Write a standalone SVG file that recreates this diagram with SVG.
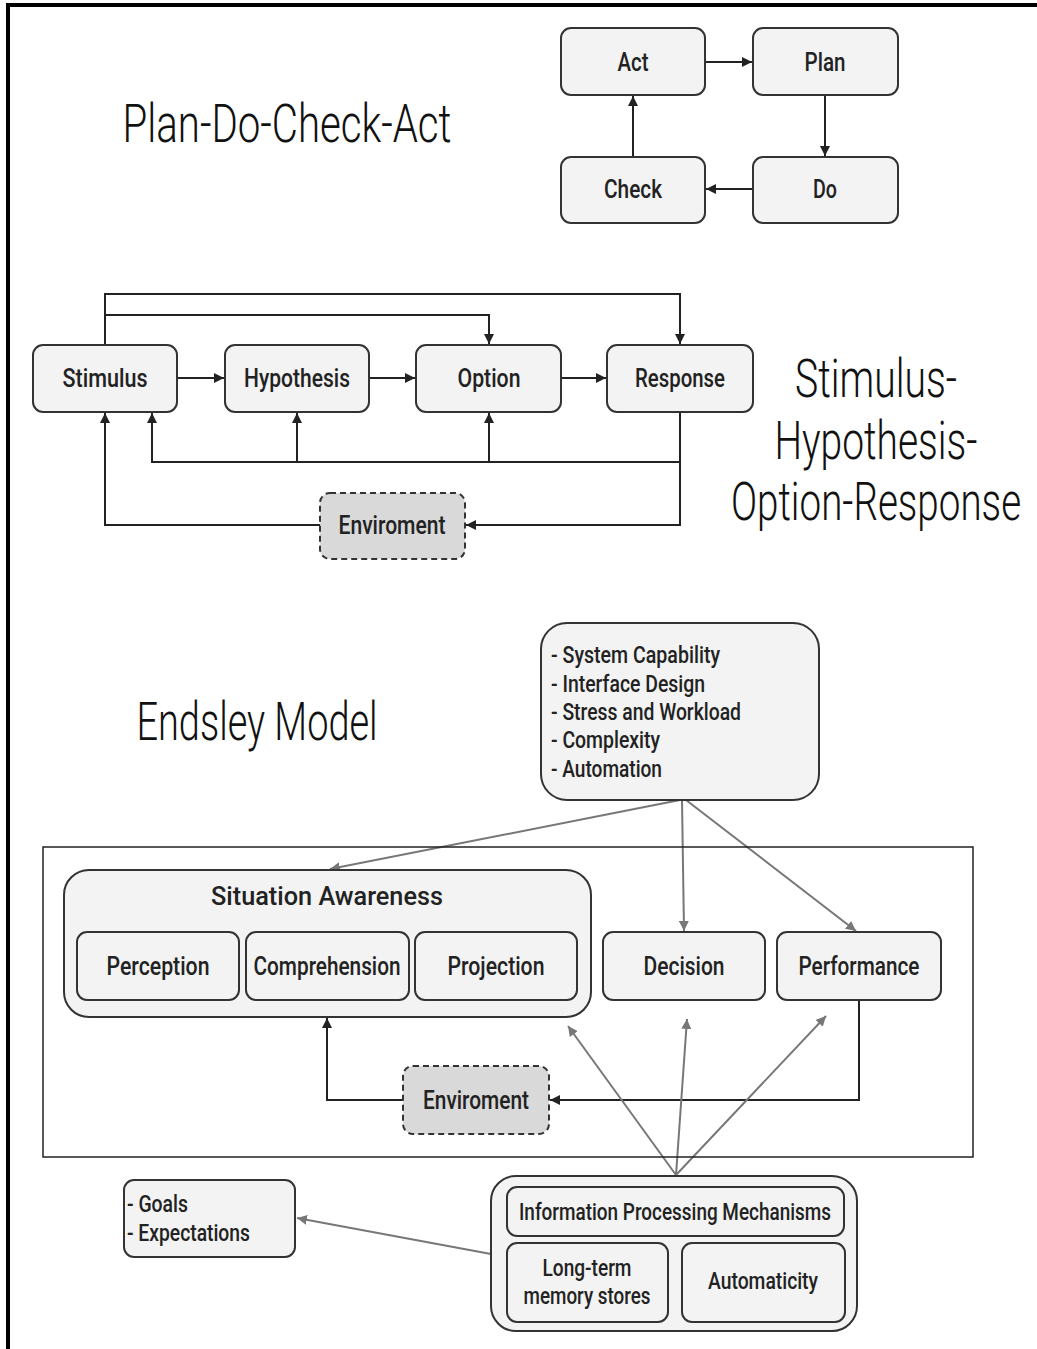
<svg xmlns="http://www.w3.org/2000/svg" width="1037" height="1349" viewBox="0 0 1037 1349">
<defs>
<style>
.box{fill:#f3f3f3;stroke:#333;stroke-width:2}
.env{fill:#d9d9d9;stroke:#333;stroke-width:2;stroke-dasharray:6 4}
.lbl{font-family:"Roboto","Liberation Sans",sans-serif;font-weight:500;font-size:25px;fill:#222;text-anchor:middle}
.lst{font-family:"Roboto","Liberation Sans",sans-serif;font-weight:500;font-size:23px;fill:#222}
.title{font-family:"Roboto","Liberation Sans",sans-serif;font-weight:300;font-size:54px;fill:#111;text-anchor:middle}
.k{fill:none;stroke:#222;stroke-width:2}
.g{fill:none;stroke:#777;stroke-width:2}
</style>
<marker id="ak" viewBox="0 0 10 10" refX="10" refY="5" markerWidth="10" markerHeight="10" markerUnits="userSpaceOnUse" orient="auto"><path d="M0,0 L10,5 L0,10 z" fill="#222"/></marker>
<marker id="ag" viewBox="0 0 10 10" refX="10" refY="5" markerWidth="10" markerHeight="10" markerUnits="userSpaceOnUse" orient="auto"><path d="M0,0 L10,5 L0,10 z" fill="#777"/></marker>
</defs>
<rect width="1037" height="1349" fill="#fff"/>
<!-- page frame -->
<line x1="6" y1="5" x2="1037" y2="5" stroke="#000" stroke-width="4"/>
<line x1="8" y1="3" x2="8" y2="1349" stroke="#000" stroke-width="4"/>

<!-- titles -->
<g transform="translate(287 0) scale(0.72 1)"><text class="title" x="0" y="142" textLength="457" lengthAdjust="spacingAndGlyphs">Plan-Do-Check-Act</text></g>
<g transform="translate(876 0) scale(0.72 1)">
<text class="title" x="0" y="397" textLength="225" lengthAdjust="spacingAndGlyphs">Stimulus-</text>
<text class="title" x="0" y="459" textLength="282" lengthAdjust="spacingAndGlyphs">Hypothesis-</text>
<text class="title" x="0" y="520" textLength="403" lengthAdjust="spacingAndGlyphs">Option-Response</text>
</g>
<g transform="translate(257 0) scale(0.72 1)"><text class="title" x="0" y="740" textLength="335" lengthAdjust="spacingAndGlyphs">Endsley Model</text></g>

<!-- connectors -->
<g id="connectors">
<line class="k" x1="705" y1="62" x2="752" y2="62" marker-end="url(#ak)"/>
<line class="k" x1="825" y1="95" x2="825" y2="156" marker-end="url(#ak)"/>
<line class="k" x1="753" y1="189" x2="706" y2="189" marker-end="url(#ak)"/>
<line class="k" x1="633" y1="157" x2="633" y2="96" marker-end="url(#ak)"/>

<line class="k" x1="177" y1="378" x2="224" y2="378" marker-end="url(#ak)"/>
<line class="k" x1="369" y1="378" x2="415" y2="378" marker-end="url(#ak)"/>
<line class="k" x1="561" y1="378" x2="606" y2="378" marker-end="url(#ak)"/>
<polyline class="k" points="105,345 105,294 680,294 680,344" marker-end="url(#ak)"/>
<polyline class="k" points="105,315 489,315 489,344" marker-end="url(#ak)"/>
<polyline class="k" points="680,412 680,462 152,462 152,413" marker-end="url(#ak)"/>
<line class="k" x1="297" y1="462" x2="297" y2="413" marker-end="url(#ak)"/>
<line class="k" x1="489" y1="462" x2="489" y2="413" marker-end="url(#ak)"/>
<polyline class="k" points="680,462 680,525 466,525" marker-end="url(#ak)"/>
<polyline class="k" points="320,525 105,525 105,413" marker-end="url(#ak)"/>

<line class="g" x1="680" y1="800" x2="330" y2="869" marker-end="url(#ag)"/>
<line class="g" x1="682" y1="800" x2="684" y2="931" marker-end="url(#ag)"/>
<line class="g" x1="686" y1="800" x2="856" y2="931" marker-end="url(#ag)"/>
<polyline class="k" points="859,1000 859,1100 550,1100" marker-end="url(#ak)"/>
<polyline class="k" points="403,1100 327,1100 327,1018" marker-end="url(#ak)"/>
<line class="g" x1="676" y1="1175" x2="568" y2="1026" marker-end="url(#ag)"/>
<line class="g" x1="676" y1="1175" x2="687" y2="1019" marker-end="url(#ag)"/>
<line class="g" x1="676" y1="1175" x2="826" y2="1016" marker-end="url(#ag)"/>
<line class="g" x1="491" y1="1254" x2="297" y2="1218" marker-end="url(#ag)"/>
</g>

<!-- PDCA -->
<g id="act"><rect class="box" x="561" y="28" width="144" height="67" rx="10"/><text class="lbl" x="633" y="71" textLength="31" lengthAdjust="spacingAndGlyphs">Act</text></g>
<g id="plan"><rect class="box" x="753" y="28" width="145" height="67" rx="10"/><text class="lbl" x="825" y="71" textLength="41" lengthAdjust="spacingAndGlyphs">Plan</text></g>
<g id="check"><rect class="box" x="561" y="157" width="144" height="66" rx="10"/><text class="lbl" x="633" y="198" textLength="58" lengthAdjust="spacingAndGlyphs">Check</text></g>
<g id="do"><rect class="box" x="753" y="157" width="145" height="66" rx="10"/><text class="lbl" x="825" y="198" textLength="24" lengthAdjust="spacingAndGlyphs">Do</text></g>

<!-- SHOR -->
<g id="stimulus"><rect class="box" x="33" y="345" width="144" height="67" rx="10"/><text class="lbl" x="105" y="387" textLength="85" lengthAdjust="spacingAndGlyphs">Stimulus</text></g>
<g id="hypothesis"><rect class="box" x="225" y="345" width="144" height="67" rx="10"/><text class="lbl" x="297" y="387" textLength="106" lengthAdjust="spacingAndGlyphs">Hypothesis</text></g>
<g id="option"><rect class="box" x="416" y="345" width="145" height="67" rx="10"/><text class="lbl" x="489" y="387" textLength="63" lengthAdjust="spacingAndGlyphs">Option</text></g>
<g id="response"><rect class="box" x="607" y="345" width="146" height="67" rx="10"/><text class="lbl" x="680" y="387" textLength="90" lengthAdjust="spacingAndGlyphs">Response</text></g>
<g id="enviroment1"><rect class="env" x="320" y="493" width="145" height="66" rx="10"/><text class="lbl" x="392" y="534" textLength="107" lengthAdjust="spacingAndGlyphs">Enviroment</text></g>

<!-- Endsley -->
<g id="factors"><rect class="box" x="541" y="623" width="278" height="177" rx="26"/>
<text class="lst" x="551" y="663" textLength="169" lengthAdjust="spacingAndGlyphs">- System Capability</text>
<text class="lst" x="551" y="692" textLength="154" lengthAdjust="spacingAndGlyphs">- Interface Design</text>
<text class="lst" x="551" y="720" textLength="190" lengthAdjust="spacingAndGlyphs">- Stress and Workload</text>
<text class="lst" x="551" y="748" textLength="109" lengthAdjust="spacingAndGlyphs">- Complexity</text>
<text class="lst" x="551" y="777" textLength="111" lengthAdjust="spacingAndGlyphs">- Automation</text></g>

<g id="system"><rect x="43" y="847" width="930" height="310" fill="none" stroke="#222" stroke-width="1.5"/></g>
<g id="situation-awareness"><rect class="box" x="64" y="870" width="527" height="147" rx="25"/><text class="lbl" x="327" y="905" font-size="28" textLength="232" lengthAdjust="spacingAndGlyphs">Situation Awareness</text></g>
<g id="perception"><rect class="box" x="77" y="932" width="162" height="68" rx="10"/><text class="lbl" x="158" y="975" textLength="103" lengthAdjust="spacingAndGlyphs">Perception</text></g>
<g id="comprehension"><rect class="box" x="246" y="932" width="163" height="68" rx="10"/><text class="lbl" x="327" y="975" textLength="147" lengthAdjust="spacingAndGlyphs">Comprehension</text></g>
<g id="projection"><rect class="box" x="415" y="932" width="162" height="68" rx="10"/><text class="lbl" x="496" y="975" textLength="97" lengthAdjust="spacingAndGlyphs">Projection</text></g>
<g id="decision"><rect class="box" x="603" y="932" width="162" height="68" rx="10"/><text class="lbl" x="684" y="975" textLength="81" lengthAdjust="spacingAndGlyphs">Decision</text></g>
<g id="performance"><rect class="box" x="777" y="932" width="164" height="68" rx="10"/><text class="lbl" x="859" y="975" textLength="121" lengthAdjust="spacingAndGlyphs">Performance</text></g>
<g id="enviroment2"><rect class="env" x="403" y="1066" width="146" height="68" rx="10"/><text class="lbl" x="476" y="1109" textLength="106" lengthAdjust="spacingAndGlyphs">Enviroment</text></g>

<g id="ipm-group"><rect class="box" x="491" y="1176" width="366" height="155" rx="25"/></g>
<g id="ipm"><rect class="box" x="507" y="1187" width="337" height="49" rx="10"/><text class="lst" x="675" y="1220" text-anchor="middle" textLength="312" lengthAdjust="spacingAndGlyphs">Information Processing Mechanisms</text></g>
<g id="ltm"><rect class="box" x="507" y="1243" width="161" height="79" rx="10"/><text class="lst" x="587" y="1276" text-anchor="middle" textLength="89" lengthAdjust="spacingAndGlyphs">Long-term</text><text class="lst" x="587" y="1304" text-anchor="middle" textLength="127" lengthAdjust="spacingAndGlyphs">memory stores</text></g>
<g id="automaticity"><rect class="box" x="682" y="1243" width="163" height="79" rx="10"/><text class="lst" x="763" y="1289" text-anchor="middle" textLength="110" lengthAdjust="spacingAndGlyphs">Automaticity</text></g>
<g id="goals"><rect class="box" x="124" y="1180" width="171" height="77" rx="10"/>
<text class="lst" x="127" y="1212" textLength="61" lengthAdjust="spacingAndGlyphs">- Goals</text>
<text class="lst" x="127" y="1241" textLength="123" lengthAdjust="spacingAndGlyphs">- Expectations</text></g>
</svg>
